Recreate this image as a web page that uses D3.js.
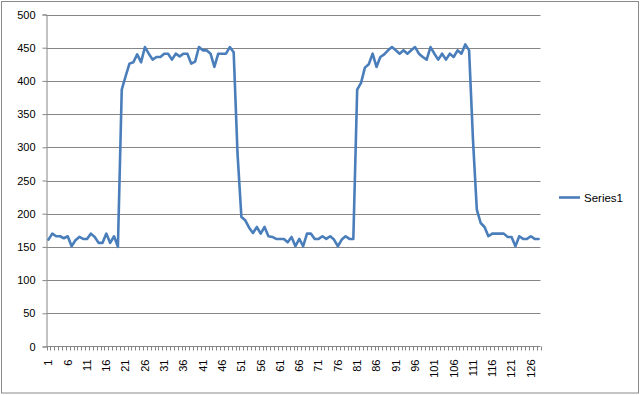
<!DOCTYPE html>
<html>
<head>
<meta charset="utf-8">
<script src="https://cdn.jsdelivr.net/npm/d3@7"></script>
<style>
  html, body { margin: 0; padding: 0; background: #fff; }
  svg { display: block; font-family: "Liberation Sans", Arial, sans-serif; }
</style>
</head>
<body>
<svg id="chart" width="640" height="395"></svg>
<script>
// ---- data ----
const categories = d3.range(1, 129);
const seriesName = "Series1";
const series1 = [
  161,170,166,166,163,166,151,160,165,162,162,170,165,156,156,170,156,166,150,
  387,407,426,428,440,428,451,441,432,436,436,441,441,432,441,437,441,441,426,429,451,446,446,441,421,441,441,441,451,443,
  290,
  195,190,179,171,180,170,180,166,165,162,162,162,157,165,151,162,151,170,170,162,162,166,162,166,161,151,161,166,162,162,
  387,397,420,425,441,421,436,440,446,451,446,441,446,441,446,451,441,436,432,451,441,432,441,432,441,436,446,441,455,446,
  312,
  206,186,180,166,170,170,170,170,165,165,151,166,162,162,166,162,162
];
const yTicks = [0,50,100,150,200,250,300,350,400,450,500];
const xLabelEvery = 5;

// ---- layout ----
const svg = d3.select("#chart");
const pLeft = 46.5, pRight = 540.5, pTop = 14.5, pBottom = 346.5;
const gridColor = "#868686";
const lineColor = "#4A7EBB";

svg.append("rect")
  .attr("x", 1.5).attr("y", 1.5).attr("width", 637).attr("height", 391.5)
  .attr("fill", "#fff").attr("stroke", "#8a8a8a").attr("stroke-width", 1);

const x = d3.scaleBand().domain(categories).range([pLeft, pRight]).padding(0);
const y = d3.scaleLinear().domain([0, 500]).range([pBottom, pTop]);
const cx = d => x(d) + x.bandwidth() / 2;

// gridlines
svg.append("g").selectAll("line")
  .data(yTicks.filter(t => t > 0))
  .join("line")
  .attr("x1", pLeft).attr("x2", pRight)
  .attr("y1", d => Math.round(y(d)) + 0.5).attr("y2", d => Math.round(y(d)) + 0.5)
  .attr("stroke", gridColor).attr("stroke-width", 1);

// y axis
const yAxis = d3.axisLeft(y).tickValues(yTicks).tickSize(4).tickPadding(7);
const gy = svg.append("g").attr("transform", `translate(${pLeft},0)`).call(yAxis);
gy.select(".domain").attr("stroke", gridColor);
gy.selectAll(".tick line").attr("stroke", gridColor);
gy.selectAll(".tick text").attr("font-size", 11).attr("fill", "#000")
  .attr("font-family", "Liberation Sans, Arial, sans-serif");

// x axis line
svg.append("line")
  .attr("x1", pLeft).attr("x2", pRight)
  .attr("y1", pBottom).attr("y2", pBottom)
  .attr("stroke", gridColor);

// x tick marks at category boundaries
const boundaries = categories.map(c => x(c)).concat([pRight]);
svg.append("g").selectAll("line")
  .data(boundaries)
  .join("line")
  .attr("x1", d => Math.round(d) + 0.5).attr("x2", d => Math.round(d) + 0.5)
  .attr("y1", pBottom).attr("y2", pBottom + 4)
  .attr("stroke", gridColor);

// x labels
svg.append("g").selectAll("text")
  .data(categories.filter((c, i) => i % xLabelEvery === 0))
  .join("text")
  .attr("transform", d => `translate(${cx(d)},${pBottom + 13}) rotate(-90)`)
  .attr("text-anchor", "end")
  .attr("dy", "0.35em")
  .attr("font-size", 11)
  .attr("fill", "#000")
  .text(d => d);

// line
const line = d3.line().x((d, i) => cx(categories[i])).y(d => y(d));
svg.append("path")
  .datum(series1)
  .attr("d", line)
  .attr("fill", "none")
  .attr("stroke", lineColor)
  .attr("stroke-width", 2.6)
  .attr("stroke-linejoin", "round")
  .attr("stroke-linecap", "round");

// legend
const lg = svg.append("g");
lg.append("line")
  .attr("x1", 559).attr("x2", 580).attr("y1", 197.5).attr("y2", 197.5)
  .attr("stroke", lineColor).attr("stroke-width", 2.6);
lg.append("text")
  .attr("x", 584).attr("y", 197.5).attr("dy", "0.35em")
  .attr("font-size", 11.5).attr("fill", "#000")
  .text(seriesName);
</script>
</body>
</html>
